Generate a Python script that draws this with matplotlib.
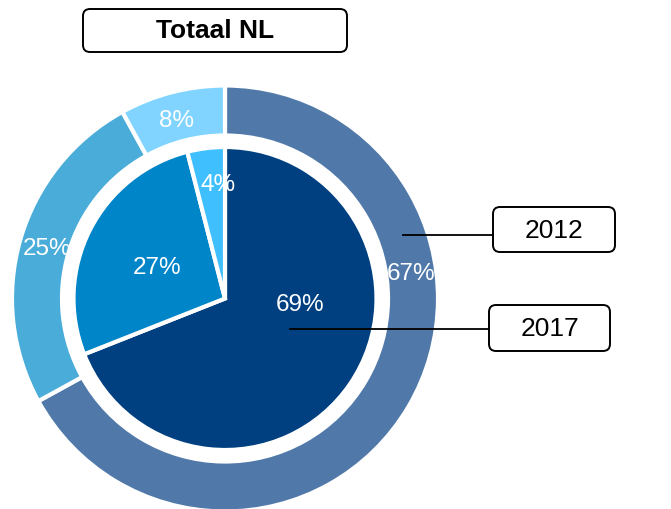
import matplotlib.pyplot as plt
from matplotlib.patches import FancyBboxPatch

plt.rcParams['font.family'] = ['Liberation Sans', 'DejaVu Sans']

# data
years = ['2012', '2017']
share_2012 = [67, 25, 8]
share_2017 = [69, 27, 4]
colors_2012 = ['#5079aa', '#4aacd8', '#80d4ff']
colors_2017 = ['#003f80', '#0085c8', '#40bfff']
title = 'Totaal NL'

W, H = 671, 510
fig = plt.figure(figsize=(W / 100, H / 100), dpi=100)
ax = fig.add_axes([0, 0, 1, 1])

def py(y):
    # pixel row (from top) -> data y
    return H - y

cx, cy = 225, py(299.5)

# outer ring = 2012
ax.pie(share_2012, colors=colors_2012, startangle=90, counterclock=False,
       radius=213, center=(cx, cy), frame=True,
       wedgeprops=dict(width=50, edgecolor='white', linewidth=3))
# inner pie = 2017
ax.pie(share_2017, colors=colors_2017, startangle=90, counterclock=False,
       radius=151.5, center=(cx, cy), frame=True,
       wedgeprops=dict(edgecolor='white', linewidth=3))
ax.set_xlim(0, W)
ax.set_ylim(0, H)
ax.set_aspect('equal')
ax.axis('off')

# percentage labels (placed like the original)
pos_2012 = [(411, 274), (47, 249), (177, 121)]
pos_2017 = [(300, 305), (157, 268), (218, 185)]
for vals, pos in ((share_2012, pos_2012), (share_2017, pos_2017)):
    for v, (x, y) in zip(vals, pos):
        ax.text(x, py(y), f'{v}%', color='white', fontsize=17.5,
                ha='center', va='center')

def box(x0, y0, x1, y1, text, bold=False):
    ax.add_patch(FancyBboxPatch((x0, py(y1)), x1 - x0, y1 - y0,
                                boxstyle='round,pad=0,rounding_size=7',
                                facecolor='white', edgecolor='black', lw=1.4))
    ax.text((x0 + x1) / 2, py((y0 + y1) / 2), text, fontsize=19,
            ha='center', va='center', fontweight='bold' if bold else 'normal')

box(83, 10, 347, 53, title, bold=True)

# year callouts
ax.plot([403, 493], [py(236), py(236)], color='black', lw=1.3)
box(493, 208, 615, 253, years[0])
ax.plot([290, 489], [py(330), py(330)], color='black', lw=1.3)
box(489, 306, 610, 352, years[1])

fig.savefig('out.png', dpi=100)
